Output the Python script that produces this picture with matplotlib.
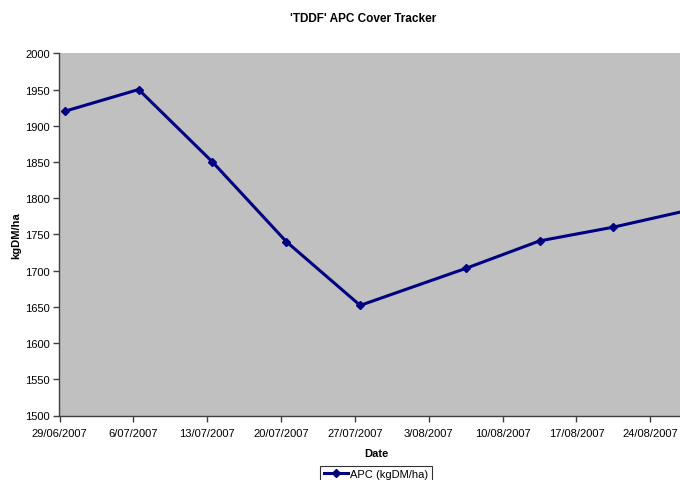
import datetime as dt
import matplotlib
matplotlib.use("Agg")
import matplotlib.pyplot as plt
import matplotlib.dates as mdates
from matplotlib.ticker import FuncFormatter

plt.rcParams['font.family'] = ['Liberation Sans', 'DejaVu Sans']

# Data
dates = ["29/06/2007", "6/07/2007", "13/07/2007", "20/07/2007", "27/07/2007",
         "6/08/2007", "13/08/2007", "20/08/2007", "27/08/2007"]
apc = [1920, 1950, 1850, 1740, 1652, 1703, 1741, 1760, 1783]
series_label = "APC (kgDM/ha)"

day = [dt.datetime.strptime(d, "%d/%m/%Y") for d in dates]
# excel-style date axis: each point sits in the middle of its day
x = [mdates.date2num(d) + 0.5 for d in day]

fig = plt.figure(figsize=(6.8, 4.81), dpi=100)
# plot area runs a little past the right edge of the picture, like the original
ax = fig.add_axes([59.5 / 680, 1 - 416.5 / 481, 633 / 680, 362.2 / 481])
ax.set_facecolor('#C0C0C0')

line, = ax.plot(x, apc, color='#000080', linewidth=2.2, marker='D', markersize=4.5,
                label=series_label, clip_on=False)

ax.set_ylim(1500, 2000)
ax.set_yticks(range(1500, 2001, 50))
ax.set_xlim(mdates.date2num(day[0]), mdates.date2num(day[-1]) + 1)
xt = [mdates.date2num(day[0]) + 7 * i for i in range(9)]
ax.set_xticks(xt)
ax.xaxis.set_major_formatter(FuncFormatter(
    lambda v, pos: "{d.day}/{d.month:02d}/{d.year}".format(d=mdates.num2date(v))))

for s in ['top', 'right']:
    ax.spines[s].set_visible(False)
for s in ['left', 'bottom']:
    ax.spines[s].set_color('#404040')
    ax.spines[s].set_linewidth(1)
ax.tick_params(axis='both', direction='out', length=4, width=1, color='#404040',
               labelsize=8, pad=3)
ax.tick_params(axis='x', pad=5)

ax.set_xlabel("Date", fontsize=8, fontweight='bold', labelpad=7)
ax.set_ylabel("kgDM/ha", fontsize=8, fontweight='bold', labelpad=2.5)
fig.text(363 / 680, 1 - 19 / 481, "'TDDF' APC Cover Tracker", ha='center', va='center',
         fontsize=8.5, fontweight='bold')

leg = fig.legend(handles=[line], loc='upper center', bbox_to_anchor=(376 / 680, 1 - 467 / 481),
                 fontsize=8, frameon=True, fancybox=False, handlelength=2.2,
                 handletextpad=0.2, borderpad=0.3, borderaxespad=0)
leg.get_frame().set_edgecolor('black')
leg.get_frame().set_linewidth(0.8)

fig.savefig("out.png", dpi=100)
